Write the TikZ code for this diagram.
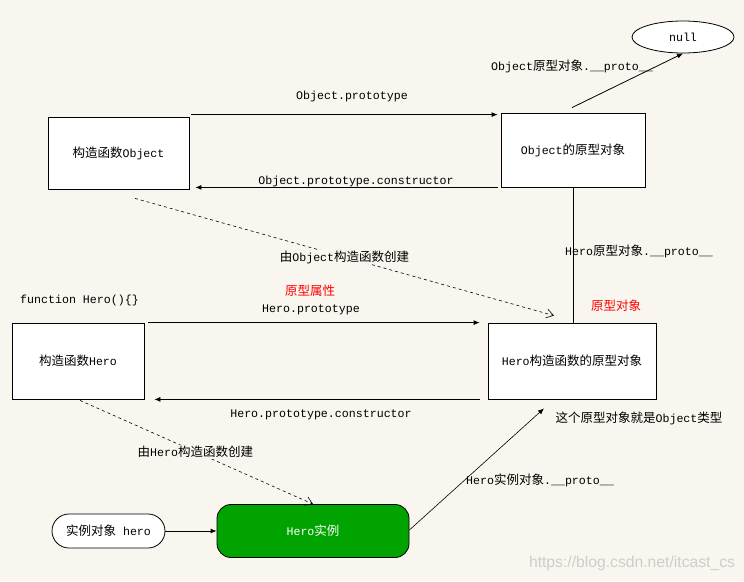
\documentclass[tikz,border=0pt]{standalone}
\usepackage{fontspec}
\setmainfont{Liberation Mono}[Scale=0.93]
\newfontfamily\zhfont{Noto Sans CJK SC}
\newfontfamily\wmfont{Liberation Sans}
\newcommand\zh[1]{{\zhfont #1}}
\usetikzlibrary{shapes.geometric,arrows.meta,calc}
\definecolor{bg}{RGB}{249,246,240}
\definecolor{instgreen}{RGB}{0,163,0}
\definecolor{wm}{RGB}{205,205,205}
\begin{document}
\begin{tikzpicture}[x=1pt,y=-1pt,
  txt/.style={font=\fontsize{12.5}{15}\selectfont, inner sep=0pt},
  box/.style={txt, draw=black, line width=0.8pt, fill=white, rectangle},
  arr/.style={line width=0.8pt, -{Latex[length=6pt,width=5pt]}},
  dsh/.style={line width=0.6pt, dash pattern=on 3pt off 3pt, -{Straight Barb[length=7pt,width=9pt]}},
  onlbl/.style={txt, fill=bg, inner sep=1pt},
  redlbl/.style={txt, text=red}]
\path[fill=bg] (0,0) rectangle (744,581);

% nodes
\node[box, minimum width=141pt, minimum height=72pt] (objF) at (118.5,153) {\zh{构造函数}Object};
\node[box, minimum width=144pt, minimum height=74pt] (objP) at (573,150) {Object\zh{的原型对象}};
\node[txt, draw=black, line width=0.8pt, fill=white, ellipse, minimum width=102pt, minimum height=32pt] (null) at (683,37) {null};
\node[box, minimum width=132pt, minimum height=76pt] (heroF) at (78,361) {\zh{构造函数}Hero};
\node[box, minimum width=168pt, minimum height=76pt] (heroP) at (572,361) {Hero\zh{构造函数的原型对象}};
\node[txt, draw=black, line width=0.8pt, fill=instgreen, text=white, rounded corners=14pt, minimum width=192pt, minimum height=53pt] (inst) at (313,531) {Hero\zh{实例}};
\node[txt, draw=black, line width=0.8pt, fill=white, rounded corners=17pt, minimum width=113pt, minimum height=34pt] (pill) at (108.5,531) {\zh{实例对象} hero};

% free texts
\node[txt, anchor=west] (fnhero) at (20,300) {function Hero()\{\}};
\node[redlbl] (redprop) at (310,291) {\zh{原型属性}};
\node[redlbl] (redobj) at (616,306) {\zh{原型对象}};
\node[txt] (isobj) at (639,418) {\zh{这个原型对象就是}Object\zh{类型}};
\node[font=\wmfont\fontsize{15.7}{18}\selectfont, text=wm, inner sep=0pt] (wmark) at (632,563) {https://blog.csdn.net/itcast\_cs};

% Object.prototype
\draw[arr] ($(objF.north east)+(2,-2)$) -- ($(objF.north east -| objP.west)+(-3,-2)$);
\node[txt] (lblop) at (352,96) {Object.prototype};
% Object.prototype.constructor
\draw[arr] ($(objP.south west)+(-3,0)$) -- ($(objP.south west -| objF.east)+(6,0)$);
\node[txt] (lblopc) at (356,181) {Object.prototype.constructor};
% Object proto -> null
\draw[arr] ($(objP.north)+(-1,-5)$) -- (null.south);
\node[txt] (lblnull) at (572,66) {Object\zh{原型对象}.\_\_proto\_\_};
% Hero proto -> Object proto
\draw[line width=0.8pt] (objP.south) -- (objP.south |- heroP.north);
\node[txt] (lblhp) at (639,251) {Hero\zh{原型对象}.\_\_proto\_\_};
% Hero.prototype
\draw[arr] ($(heroF.north east)+(4,0)$) -- ($(heroF.north east -| heroP.west)+(-8,0)$);
\node[txt] (lblhproto) at (311,310) {Hero.prototype};
% Hero.prototype.constructor
\draw[arr] ($(heroP.south west)+(-8,0)$) -- ($(heroP.south west -| heroF.east)+(10,0)$);
\node[txt] (lblhcons) at (321,415) {Hero.prototype.constructor};
% dashed: created by Object
\draw[dsh] ($(objF.south)+(16.5,9)$) -- node[onlbl, pos=0.5] {\zh{由}Object\zh{构造函数创建}} ($(heroP.north)+(-18,-7)$);
% dashed: created by Hero
\draw[dsh] ($(heroF.south)+(2,1)$) -- node[onlbl, pos=0.495] {\zh{由}Hero\zh{构造函数创建}} (inst.north);
% instance
\draw[arr] (pill.east) -- (inst.west);
\draw[arr, line width=0.6pt] ($(inst.east)+(0,-1)$) -- ($(heroP.south)+(-28,9)$);
\node[txt] (lblinst) at (540,480) {Hero\zh{实例对象}.\_\_proto\_\_};
\end{tikzpicture}
\end{document}
